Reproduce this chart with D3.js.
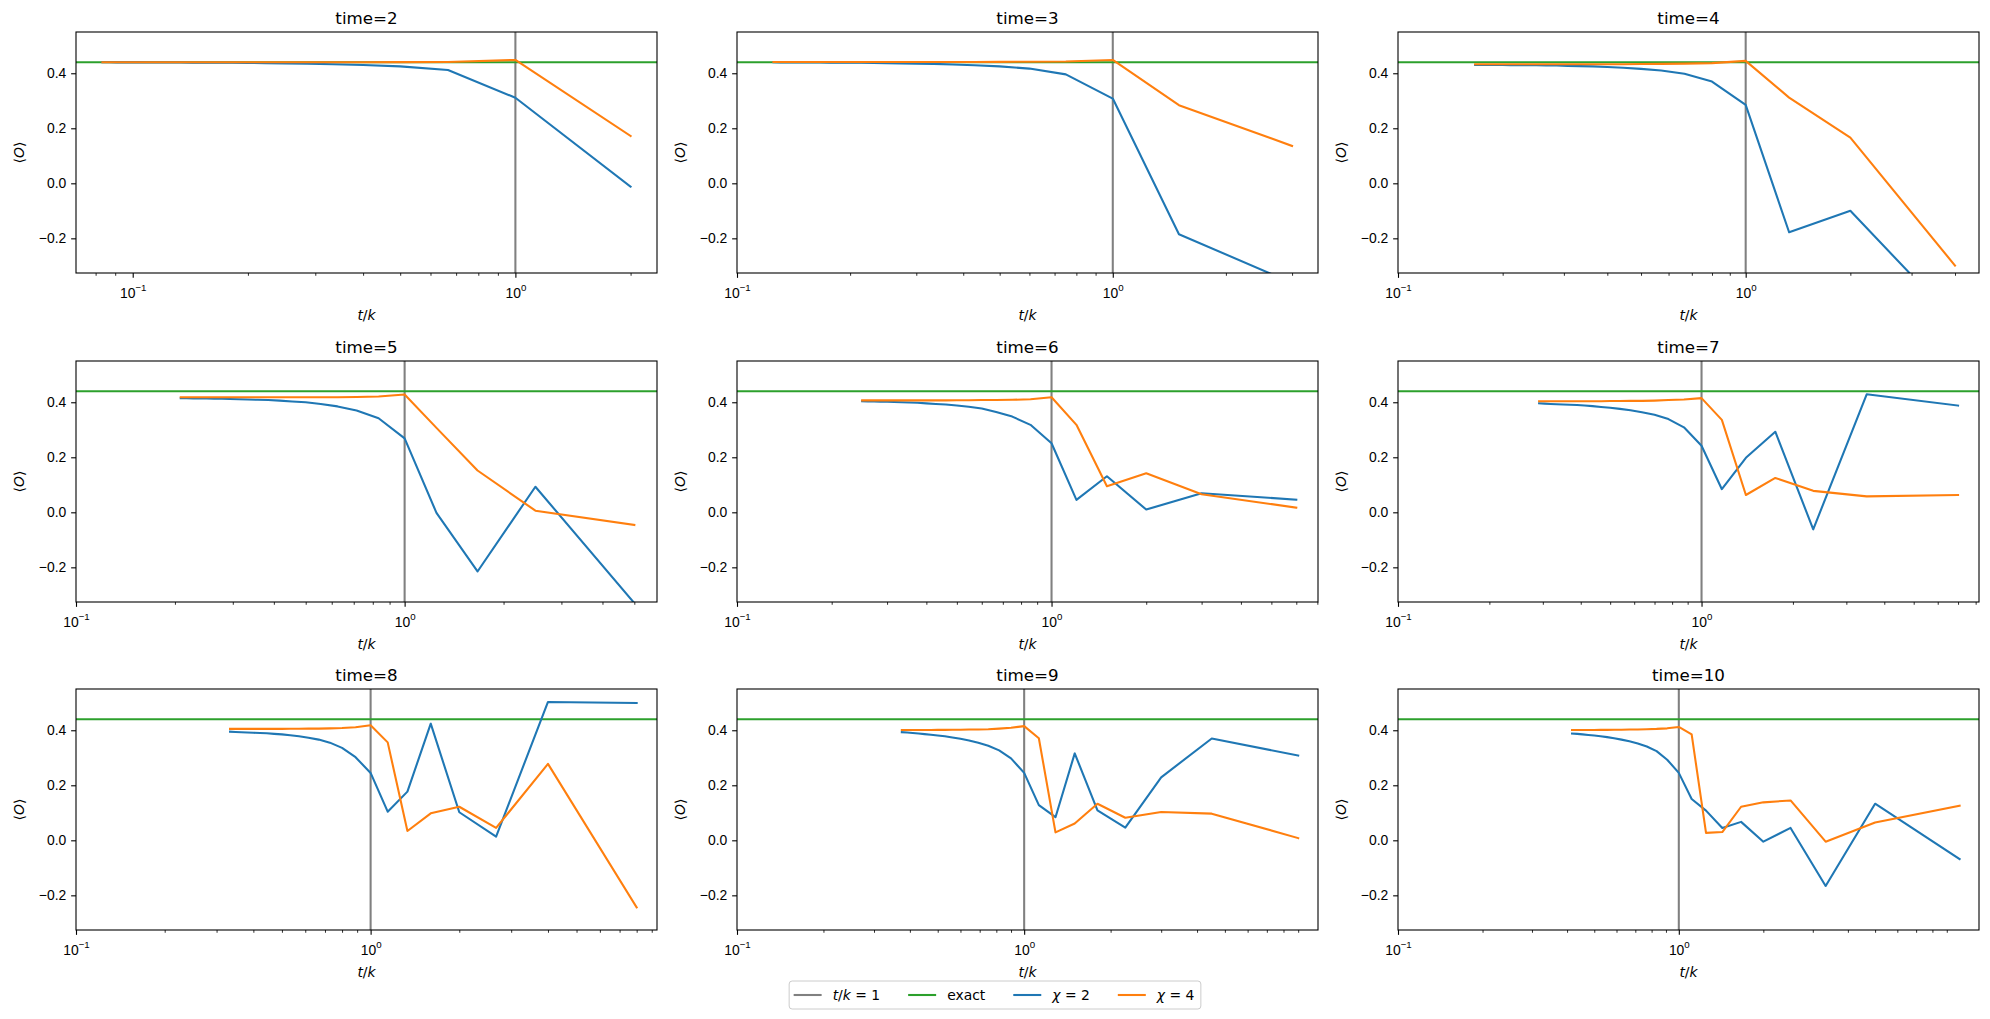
<!DOCTYPE html>
<html>
<head>
<meta charset="utf-8">
<script src="https://cdn.jsdelivr.net/npm/d3@7"></script>
<style>
  body { margin: 0; background: #fff; }
  svg { font-family: "DejaVu Sans", sans-serif; }
</style>
</head>
<body>
<svg id="chart" width="1990" height="1019"></svg>
<script>
// panel times, bond counts k (x = t/k)
const times = [2, 3, 4, 5, 6, 7, 8, 9, 10];
const kValues = [1, 2, 3, 4, 5, 6, 7, 8, 9, 10, 11, 12, 13, 14, 15, 16, 17, 18, 19, 20, 21, 22, 23, 24];
const exactValue = 0.44;

// <O> for chi=2, one row per time, values ordered by k = 1..24
const chi2Values = [
  [-0.012, 0.311, 0.412, 0.425, 0.430, 0.433, 0.435, 0.436, 0.437, 0.4375, 0.438, 0.438, 0.4385, 0.4385, 0.439, 0.439, 0.439, 0.439, 0.4395, 0.4395, 0.4395, 0.4395, 0.440, 0.440],
  [-0.362, -0.185, 0.308, 0.396, 0.417, 0.425, 0.429, 0.432, 0.434, 0.435, 0.436, 0.437, 0.4375, 0.438, 0.438, 0.4385, 0.4385, 0.439, 0.439, 0.439, 0.4395, 0.4395, 0.4395, 0.440],
  [-0.50, -0.100, -0.178, 0.285, 0.370, 0.398, 0.410, 0.416, 0.420, 0.423, 0.425, 0.426, 0.427, 0.428, 0.4285, 0.429, 0.429, 0.4295, 0.4295, 0.430, 0.430, 0.430, 0.430, 0.430],
  [-0.330, 0.093, -0.215, -0.002, 0.269, 0.342, 0.370, 0.385, 0.394, 0.400, 0.403, 0.406, 0.408, 0.409, 0.410, 0.411, 0.412, 0.4125, 0.413, 0.4135, 0.414, 0.414, 0.4145, 0.4145],
  [0.046, 0.069, 0.010, 0.131, 0.045, 0.251, 0.318, 0.348, 0.365, 0.377, 0.384, 0.388, 0.392, 0.394, 0.396, 0.398, 0.399, 0.400, 0.401, 0.402, 0.402, 0.403, 0.403, 0.404],
  [0.388, 0.429, -0.062, 0.293, 0.198, 0.084, 0.242, 0.309, 0.339, 0.355, 0.364, 0.371, 0.376, 0.380, 0.383, 0.386, 0.388, 0.390, 0.391, 0.392, 0.393, 0.394, 0.395, 0.396],
  [0.499, 0.503, 0.013, 0.102, 0.424, 0.177, 0.104, 0.245, 0.302, 0.336, 0.355, 0.366, 0.373, 0.378, 0.382, 0.385, 0.387, 0.389, 0.390, 0.391, 0.392, 0.393, 0.394, 0.395],
  [0.308, 0.370, 0.229, 0.046, 0.109, 0.316, 0.084, 0.128, 0.245, 0.298, 0.327, 0.344, 0.355, 0.363, 0.369, 0.374, 0.378, 0.381, 0.384, 0.386, 0.388, 0.390, 0.392, 0.393],
  [-0.068, 0.133, -0.166, 0.045, -0.005, 0.067, 0.045, 0.108, 0.150, 0.245, 0.293, 0.324, 0.341, 0.352, 0.360, 0.366, 0.371, 0.375, 0.378, 0.381, 0.383, 0.385, 0.387, 0.388]
];

// <O> for chi=4
const chi4Values = [
  [0.172, 0.4485, 0.441, 0.4405, 0.440, 0.440, 0.440, 0.440, 0.440, 0.440, 0.440, 0.440, 0.440, 0.440, 0.440, 0.440, 0.440, 0.440, 0.440, 0.440, 0.440, 0.440, 0.440, 0.440],
  [0.136, 0.284, 0.4485, 0.443, 0.442, 0.4415, 0.441, 0.441, 0.441, 0.441, 0.441, 0.441, 0.441, 0.441, 0.441, 0.441, 0.441, 0.441, 0.441, 0.441, 0.441, 0.441, 0.441, 0.441],
  [-0.299, 0.166, 0.3115, 0.445, 0.437, 0.435, 0.434, 0.4335, 0.433, 0.433, 0.433, 0.433, 0.433, 0.433, 0.433, 0.433, 0.433, 0.433, 0.433, 0.433, 0.433, 0.433, 0.433, 0.433],
  [-0.046, 0.006, 0.152, 0.307, 0.428, 0.421, 0.419, 0.4185, 0.418, 0.418, 0.418, 0.418, 0.418, 0.418, 0.418, 0.418, 0.418, 0.418, 0.418, 0.418, 0.418, 0.418, 0.418, 0.418],
  [0.017, 0.066, 0.142, 0.095, 0.318, 0.418, 0.411, 0.409, 0.408, 0.408, 0.4075, 0.4075, 0.407, 0.407, 0.407, 0.407, 0.407, 0.407, 0.407, 0.407, 0.407, 0.407, 0.407, 0.407],
  [0.063, 0.058, 0.078, 0.125, 0.063, 0.336, 0.415, 0.410, 0.408, 0.406, 0.405, 0.405, 0.4045, 0.4045, 0.404, 0.404, 0.404, 0.404, 0.404, 0.404, 0.404, 0.404, 0.404, 0.404],
  [-0.244, 0.278, 0.045, 0.122, 0.098, 0.034, 0.356, 0.418, 0.411, 0.408, 0.407, 0.406, 0.406, 0.4055, 0.4055, 0.405, 0.405, 0.405, 0.405, 0.405, 0.405, 0.405, 0.405, 0.405],
  [0.008, 0.097, 0.103, 0.082, 0.133, 0.061, 0.029, 0.371, 0.415, 0.409, 0.406, 0.404, 0.403, 0.4025, 0.402, 0.402, 0.4015, 0.4015, 0.401, 0.401, 0.401, 0.401, 0.401, 0.401],
  [0.126, 0.065, -0.005, 0.145, 0.138, 0.122, 0.030, 0.027, 0.385, 0.412, 0.407, 0.405, 0.404, 0.403, 0.4025, 0.402, 0.402, 0.4015, 0.4015, 0.401, 0.401, 0.401, 0.401, 0.401]
];

const xMajorTicks = [0.1, 1];
const yTicks = [-0.2, 0.0, 0.2, 0.4];
const yDomain = [-0.326, 0.55];
const legendLabels = ["t/k = 1", "exact", "χ = 2", "χ = 4"];

const colors = { vline: "#808080", exact: "#2ca02c", chi2: "#1f77b4", chi4: "#ff7f0e" };
const W = 581, H = 241;
const colLeft = [76, 737, 1398];
const rowTop = [32, 361, 689];
const lw = 2.08;

const svg = d3.select("#chart");
const fmtY = d3.format(".1f");

function supLabel(sel, d) {
  const e = Math.round(Math.log10(d));
  sel.text(null);
  sel.append("tspan").text("10");
  sel.append("tspan").attr("font-size", "9.7px").attr("dy", "-7").text(e < 0 ? "\u2212" + (-e) : String(e));
}

const isPow10 = v => Math.abs(Math.log10(v) - Math.round(Math.log10(v))) < 1e-9;

times.forEach((time, i) => {
  const left = colLeft[i % 3], top = rowTop[Math.floor(i / 3)];
  const pts2 = kValues.map((k, j) => ({ x: time / k, y: chi2Values[i][j] }));
  const pts4 = kValues.map((k, j) => ({ x: time / k, y: chi4Values[i][j] }));

  // data limits with 5% log margin, widened to include the fixed major ticks
  const lo = Math.log10(d3.min(pts2, d => d.x)), hi = Math.log10(d3.max(pts2, d => d.x));
  const m = 0.05 * (hi - lo);
  const x = d3.scaleLog()
    .domain([Math.min(Math.pow(10, lo - m), d3.min(xMajorTicks)), Math.max(Math.pow(10, hi + m), d3.max(xMajorTicks))])
    .range([0, W]);
  const y = d3.scaleLinear().domain(yDomain).range([H, 0]);

  const g = svg.append("g").attr("transform", `translate(${left},${top})`);
  const clipId = "clip" + i;
  g.append("clipPath").attr("id", clipId).append("rect").attr("width", W).attr("height", H);

  const plot = g.append("g").attr("clip-path", `url(#${clipId})`);
  plot.append("line").attr("x1", x(1)).attr("x2", x(1)).attr("y1", 0).attr("y2", H)
    .attr("stroke", colors.vline).attr("stroke-width", lw);
  plot.append("line").attr("x1", 0).attr("x2", W).attr("y1", y(exactValue)).attr("y2", y(exactValue))
    .attr("stroke", colors.exact).attr("stroke-width", lw);

  const line = d3.line().x(d => x(d.x)).y(d => y(d.y));
  [[pts2, colors.chi2], [pts4, colors.chi4]].forEach(([pts, c]) => {
    plot.append("path").datum(pts).attr("d", line).attr("fill", "none")
      .attr("stroke", c).attr("stroke-width", lw)
      .attr("stroke-linejoin", "round").attr("stroke-linecap", "square");
  });

  // axes
  const minors = x.ticks().filter(v => !isPow10(v));

  const xMinor = g.append("g").attr("transform", `translate(0,${H})`)
    .call(d3.axisBottom(x).tickValues(minors).tickSize(2.78).tickFormat(""));
  xMinor.select(".domain").remove();
  xMinor.selectAll("line").attr("stroke-width", 0.83);

  const xMajor = g.append("g").attr("transform", `translate(0,${H})`)
    .call(d3.axisBottom(x).tickValues(xMajorTicks).tickSize(4.86));
  xMajor.select(".domain").remove();
  xMajor.selectAll("line").attr("stroke-width", 1.1);
  xMajor.selectAll("text").attr("font-size", "13.9px").attr("fill", "#000")
    .attr("y", 25).attr("dy", null).each(function (d) { supLabel(d3.select(this), d); });

  const yAx = g.append("g").call(d3.axisLeft(y).tickValues(yTicks).tickSize(4.86).tickPadding(4.86)
    .tickFormat(d => fmtY(d).replace("-", "\u2212")));
  yAx.select(".domain").remove();
  yAx.selectAll("line").attr("stroke-width", 1.1);
  yAx.selectAll("text").attr("font-size", "13.9px").attr("fill", "#000");

  g.append("rect").attr("width", W).attr("height", H).attr("fill", "none")
    .attr("stroke", "#000").attr("stroke-width", 1.1);

  // labels
  g.append("text").attr("x", W / 2).attr("y", -8.3).attr("text-anchor", "middle")
    .attr("font-size", "16.7px").text(`time=${time}`);

  const xl = g.append("text").attr("x", W / 2).attr("y", H + 47).attr("text-anchor", "middle")
    .attr("font-size", "13.9px");
  xl.append("tspan").attr("font-style", "italic").text("t");
  xl.append("tspan").text("/");
  xl.append("tspan").attr("font-style", "italic").text("k");

  const yl = g.append("text").attr("transform", `translate(-57,${H / 2}) rotate(-90)`)
    .attr("text-anchor", "middle").attr("dominant-baseline", "central").attr("font-size", "13.9px");
  yl.append("tspan").text("\u27E8");
  yl.append("tspan").attr("font-style", "italic").text("O");
  yl.append("tspan").text("\u27E9");
});

// legend
const legendColors = [colors.vline, colors.exact, colors.chi2, colors.chi4];
const leg = svg.append("g");
const box = leg.append("rect").attr("fill", "#fff").attr("fill-opacity", 0.8)
  .attr("stroke", "#cccccc").attr("stroke-width", 1).attr("rx", 3);
const items = leg.append("g");
let cursor = 0;
legendLabels.forEach((lab, i) => {
  const it = items.append("g").attr("transform", `translate(${cursor},0)`);
  it.append("line").attr("x1", 0).attr("x2", 28).attr("y1", 0).attr("y2", 0)
    .attr("stroke", legendColors[i]).attr("stroke-width", lw);
  const t = it.append("text").attr("x", 39).attr("y", 0).attr("dominant-baseline", "central")
    .attr("font-size", "13.9px");
  if (lab.startsWith("t/k")) {
    t.append("tspan").attr("font-style", "italic").text("t");
    t.append("tspan").text("/");
    t.append("tspan").attr("font-style", "italic").text("k");
    t.append("tspan").text(" = 1");
  } else if (lab.startsWith("χ")) {
    t.append("tspan").attr("font-style", "italic").text("χ");
    t.append("tspan").text(lab.slice(1));
  } else {
    t.text(lab);
  }
  cursor += 39 + t.node().getComputedTextLength() + (i < legendLabels.length - 1 ? 28 : 0);
});
const legW = cursor + 11, legH = 28;
const legX = 995 - legW / 2, legY = 981;
box.attr("x", legX).attr("y", legY).attr("width", legW).attr("height", legH);
items.attr("transform", `translate(${legX + 4.5},${legY + legH / 2})`);
</script>
</body>
</html>
